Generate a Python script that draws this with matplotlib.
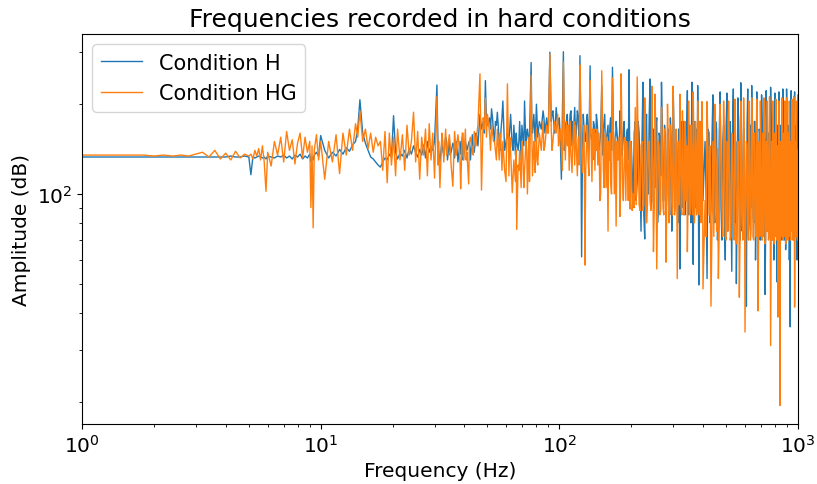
import matplotlib
matplotlib.use('Agg')
import numpy as np
import matplotlib.pyplot as plt

# frequency bins (Hz)
freq = [
    # 1 - 5 Hz
    1.0, 1.2, 1.5, 1.8, 2.0, 2.2, 2.4, 2.6, 2.8, 3.0,
    3.2, 3.4, 3.6, 3.8, 4.0, 4.2, 4.4, 4.6, 4.8, 5.0,
    # 5 - 10 Hz
    5.1, 5.2, 5.3, 5.4, 5.5, 5.6, 5.7, 5.8, 5.9, 6.0,
    6.2, 6.4, 6.6, 6.8, 7.0, 7.2, 7.4, 7.6, 7.8, 8.0,
    8.2, 8.4, 8.6, 8.8, 9.0, 9.1, 9.2, 9.3, 9.4, 9.6,
    9.8, 10.0,
    # 10 - 30 Hz
    10.4, 10.8, 11.2, 11.6, 12.0, 12.4, 12.8, 13.2, 13.6, 14.0,
    14.3, 14.6, 15.0, 15.4, 15.8, 16.2, 16.6, 17.0, 17.4, 17.8,
    18.2, 18.6, 19.0, 19.4, 19.8, 20.2, 20.6, 21.0, 21.5, 22.0,
    22.5, 23.0, 23.5, 24.0, 24.5, 25.0, 25.5, 26.0, 26.5, 27.0,
    27.5, 28.0, 28.5, 29.0, 29.5, 30.0,
    # 30 - 100 Hz
    30.7, 31.2, 31.6, 32.2, 32.8, 33.4, 34.0, 34.6, 35.2, 35.8,
    36.4, 37.0, 37.6, 38.2, 38.6, 39.2, 39.8, 40.4, 41.0, 41.7,
    42.4, 43.2, 44.0, 44.8, 45.6, 46.5, 47.2, 48.0, 49.0, 50.0,
    51.0, 52.0, 53.0, 54.0, 55.0, 56.0, 57.0, 58.0, 59.0, 60.6,
    61.5, 62.5, 63.5, 64.5, 65.5, 66.3, 67.2, 68.2, 69.2, 70.2,
    71.5, 72.5, 73.5, 74.5, 75.3, 76.2, 77.2, 78.2, 79.2, 80.2,
    81.2, 82.5, 84.0, 85.5, 87.0, 88.5, 90.0, 91.3, 92.5, 94.0,
    95.5, 97.0, 98.5, 100.0,
    # 100 - 200 Hz
    102, 104, 106, 108, 110, 112, 114, 116, 118, 120,
    122, 124, 126, 128, 130, 132, 134.6, 137, 139, 141,
    143, 145, 148, 150.6, 153, 155, 157, 160, 162, 164,
    167, 170, 173, 176, 179.5, 181.5, 184, 187, 190, 193,
    196, 198,
    # 200 - 400 Hz
    200, 204, 208, 212, 216, 220, 224, 228, 232, 236,
    240, 244, 248, 252, 256, 260, 264, 268, 272, 276,
    280, 284, 288, 292, 296, 300, 304, 308, 312, 316,
    320, 324, 328, 332, 336, 340, 344, 348, 352, 356,
    360, 364, 368, 372, 376, 380, 384, 388, 392, 396,
    400,
    # 400 - 1000 Hz
    408, 416, 424, 432, 440, 448, 456, 464, 472, 480,
    488, 496, 504, 512, 520, 528, 536, 544, 552, 560,
    568, 576, 584, 592, 600, 608, 616, 624, 632, 640,
    648, 656, 664, 672, 680, 688, 696, 704, 712, 720,
    728, 736, 744, 752, 760, 768, 776, 784, 792, 800,
    808, 816, 824, 832, 840, 848, 856, 864, 872, 880,
    888, 896, 904, 912, 920, 928, 936, 944, 952, 960,
    968, 976, 984, 992, 1000,
]

# Condition H amplitudes (dB)
amp_h = [
    133, 133, 133, 133, 133, 133, 133, 133, 133, 133,
    133, 133, 133, 133, 133, 134, 133, 133, 134, 133,
    116, 133, 132, 133, 134, 133, 132, 133, 131, 134,
    133, 132, 134, 133, 135, 132, 134, 131, 135, 133,
    136, 131, 134, 132, 136, 128, 133, 130, 135, 138,
    134, 157,
    140, 132, 138, 134, 141, 136, 143, 139, 146, 150,
    165, 207, 160, 148, 140, 133, 131, 128, 125, 123,
    128, 132, 130, 136, 133, 183, 138, 131, 137, 134,
    140, 132, 142, 136, 145, 138, 133, 141, 135, 146,
    132, 150, 138, 144, 140, 150,
    232, 140, 128, 150, 135, 155, 130, 152, 138, 148,
    132, 150, 128, 145, 136, 155, 135, 150, 140, 148,
    130, 158, 138, 160, 145, 185, 165, 175, 240, 170,
    180, 193, 160, 175, 188, 150, 165, 205, 140, 160,
    150, 185, 145, 170, 135, 150, 140, 175, 130, 160,
    205, 140, 165, 150, 180, 276, 160, 185, 150, 200,
    155, 175, 165, 190, 160, 180, 170, 299, 175, 190,
    160, 195, 170, 180,
    112, 300, 170, 185, 160, 190, 175, 195, 165, 180,
    291, 61.5, 185, 155, 175, 160, 269, 150, 175, 150,
    185, 160, 150, 230, 165, 185, 150, 170, 145, 180,
    266, 140, 175, 150, 190, 175, 140, 175, 120, 165,
    261, 135,
    150, 90, 175, 110, 160, 75, 237, 70.6, 185, 100,
    243, 95, 165, 105, 180, 90, 155, 237, 95, 170,
    85, 160, 100, 180, 75, 225, 90, 150, 100, 165,
    56, 150, 95, 175, 85, 160, 222, 95, 170, 80,
    237, 58, 175, 90, 160, 231, 49.5, 165, 85, 170,
    95,
    150, 52, 160, 90, 215, 80, 165, 95, 220, 70,
    170, 60, 218, 85, 175, 55, 225, 80, 50, 210,
    90, 236, 75, 165, 95, 42, 225, 80, 170, 231,
    85, 175, 60, 220, 90, 165, 70, 215, 85, 170,
    46, 222, 75, 160, 95, 228, 80, 175, 60, 218,
    85, 50.7, 165, 220, 90, 170, 70, 225, 85, 160,
    65, 225, 80, 170, 60, 35.8, 222, 85, 165, 70,
    220, 80, 170, 60, 215,
]

# Condition HG amplitudes (dB)
amp_hg = [
    135, 135, 135, 135, 134, 135, 134, 135, 134, 136,
    138, 133, 140, 131, 137, 130, 139, 132, 136, 134,
    136, 131, 140, 134, 142, 130, 145, 128, 102, 138,
    124, 150, 135, 155, 128, 162, 140, 152, 126, 148,
    160, 132, 155, 138, 150, 90, 145, 77, 140, 158,
    130, 150,
    112, 150, 128, 158, 117, 160, 135, 165, 140, 172,
    155, 190, 150, 165, 142, 160, 138, 155, 145, 150,
    120, 162, 109, 160, 125, 155, 115, 165, 130, 158,
    120, 170, 135, 150, 188, 128, 162, 112, 155, 135,
    165, 115, 172, 130, 160, 113,
    212, 150, 105, 160, 128, 165, 140, 158, 125, 106,
    162, 135, 158, 140, 104, 160, 130, 165, 138, 108,
    155, 140, 162, 145, 170, 253, 103, 180, 210, 185,
    160, 170, 150, 140, 165, 130, 145, 150, 120, 234,
    115, 140, 101, 130, 110, 76, 125, 140, 105, 145,
    120, 150, 100, 155, 130, 250, 115, 150, 118, 165,
    125, 160, 140, 175, 145, 170, 160, 295, 165, 150,
    175, 160, 185, 150,
    140, 277, 130, 145, 120, 135, 150, 125, 140, 155,
    271, 140, 150, 57.7, 145, 130, 240, 110, 145, 120,
    140, 125, 95, 259, 120, 140, 105, 75, 130, 110,
    245, 100, 78, 130, 84, 253, 110, 130, 95, 125,
    140, 89,
    135, 100, 195, 247, 92, 145, 88, 210, 80, 140,
    95, 230, 64, 216, 56, 150, 85, 195, 90, 165,
    59, 200, 80, 170, 95, 230, 85, 165, 52, 150,
    216, 90, 190, 85, 175, 95, 64, 205, 85, 170,
    90, 220, 80, 175, 85, 205, 90, 175, 80, 204,
    48,
    95, 204, 85, 42, 150, 200, 75, 52, 200, 90,
    205, 72, 150, 205, 70, 160, 80, 208, 68, 150,
    45, 205, 80, 210, 34.4, 150, 75, 205, 70, 210,
    72, 160, 78, 208, 40.5, 150, 205, 75, 160, 210,
    68, 150, 205, 70, 212, 31, 150, 205, 72, 160,
    208, 70, 38.6, 205, 19.5, 150, 210, 75, 160, 205,
    68, 210, 72, 160, 205, 80, 150, 208, 70, 212,
    41.7, 150, 205, 72, 140,
]

# extra bins in between, where the spectrum is dense
freq_fill = [
    # 30 - 100 Hz
    31.0, 32.5, 33.7, 34.9, 36.1, 37.3, 38.4, 39.5, 40.7, 42.0,
    43.6, 45.2, 47.6, 48.5, 49.5, 51.5, 52.5, 53.5, 54.5, 56.5,
    57.5, 59.8, 62.0, 64.0, 66.0, 67.7, 69.7, 71.0, 73.0, 75.0,
    76.7, 78.7, 80.7, 83.2, 86.2, 89.2, 93.2, 96.2, 99.2,
    # 100 - 200 Hz
    101, 103, 105, 107, 109, 111, 113, 115, 117, 119,
    121, 123, 125, 127, 129, 131, 133, 135.5, 138, 140,
    142, 144, 146.5, 149, 152, 154, 156, 158.5, 161, 163,
    165.5, 168.5, 171.5, 174.5, 178, 180.5, 183, 185.5, 188.5, 191.5,
    194.5, 197, 199,
    # 200 - 400 Hz
    202, 206, 210, 214, 218, 222, 226, 230, 234, 238,
    242, 246, 250, 254, 258, 262, 266, 270, 274, 278,
    282, 286, 290, 294, 298, 302, 306, 310, 314, 318,
    322, 326, 330, 334, 338, 342, 346, 350, 354, 358,
    362, 366, 370, 374, 378, 382, 386, 390, 394, 398,
    # 400 - 1000 Hz
    412, 420, 428, 436, 444, 452, 460, 468, 476, 484,
    492, 500, 508, 516, 524, 532, 540, 548, 556, 564,
    572, 580, 588, 596, 604, 612, 620, 628, 636, 644,
    652, 660, 668, 676, 684, 692, 700, 708, 716, 724,
    732, 740, 748, 756, 764, 772, 780, 788, 796, 804,
    812, 820, 828, 836, 844, 852, 860, 868, 876, 884,
    892, 900, 908, 916, 924, 932, 940, 948, 956, 964,
    972, 980, 988, 996,
]

h_fill = [
    145, 140, 150, 135, 145, 140, 150, 130, 145, 150,
    140, 155, 170, 160, 175, 165, 180, 150, 170, 140,
    180, 150, 165, 140, 160, 150, 170, 145, 160, 155,
    170, 165, 175, 170, 180, 165, 185, 170, 175,
    150, 180, 140, 175, 150, 185, 145, 170, 155, 190,
    150, 175, 135, 165, 150, 185, 140, 160, 130, 170,
    145, 175, 140, 160, 135, 175, 140, 160, 130, 170,
    140, 165, 135, 160, 130, 160, 135, 165, 125, 160,
    130, 155, 140,
    120, 160, 95, 175, 110, 150, 85, 165, 100, 180,
    90, 155, 105, 170, 80, 160, 115, 175, 95, 150,
    100, 165, 85, 155, 110, 170, 95, 150, 80, 160,
    105, 175, 90, 150, 100, 165, 85, 155, 95, 170,
    80, 150, 105, 165, 90, 160, 100, 175, 85, 150,
    100, 165, 80, 150, 95, 175, 70, 160, 90, 150,
    85, 170, 75, 155, 95, 165, 80, 150, 90, 175,
    70, 160, 95, 150, 85, 170, 75, 165, 90, 155,
    80, 175, 95, 150, 70, 160, 85, 170, 90, 150,
    75, 165, 95, 155, 80, 175, 70, 150, 90, 160,
    85, 170, 75, 155, 95, 165, 80, 150, 70, 175,
    90, 160, 85, 150, 95, 170, 75, 165, 80, 155,
    90, 160, 70, 150,
]

hg_fill = [
    125, 150, 135, 145, 130, 150, 125, 160, 130, 150,
    135, 160, 140, 165, 155, 140, 160, 150, 130, 160,
    120, 110, 155, 115, 140, 120, 150, 105, 140, 110,
    160, 135, 130, 150, 140, 160, 140, 165, 145,
    165, 120, 170, 175, 170, 175, 118, 175, 170, 115,
    125, 175, 118, 170, 120, 170, 115, 165, 165, 165,
    160, 165, 160, 100, 160, 105, 160, 155, 150, 160,
    100, 160, 155, 150, 155, 100, 160, 95, 155, 150,
    95, 150, 150,
    88, 90, 92, 145, 88, 150, 92, 145, 92, 150,
    88, 145, 90, 145, 92, 145, 88, 150, 85, 145,
    92, 150, 88, 145, 85, 150, 90, 145, 88, 92,
    150, 85, 145, 90, 150, 145, 90, 150, 88, 145,
    85, 150, 90, 145, 88, 150, 85, 145, 88, 145,
    72, 140, 145, 75, 72, 145, 142, 78, 140, 72,
    145, 70, 75, 140, 72, 145, 70, 142, 74, 140,
    72, 145, 70, 140, 72, 145, 70, 140, 75, 145,
    70, 142, 72, 145, 70, 72, 140, 70, 72, 145,
    70, 75, 140, 72, 145, 72, 70, 145, 68, 72,
    140, 145, 72, 142, 70, 72, 145, 70, 72, 140,
    70, 145, 70, 72, 145, 70, 75, 140, 72, 145,
    70, 72, 145, 70,
]

# merge the two sets of bins in frequency order
f_all = np.array(freq + freq_fill)
order = np.argsort(f_all, kind='stable')
f_all = f_all[order]
h_all = np.array(amp_h + h_fill)[order]
hg_all = np.array(amp_hg + hg_fill)[order]

fig = plt.figure(figsize=(8.17, 4.85), dpi=100)
ax = fig.add_axes([0.1004, 0.1237, 0.8763, 0.8041])

ax.plot(f_all, h_all, color='#1f77b4', lw=1.0, label='Condition H')
ax.plot(f_all, hg_all, color='#ff7f0e', lw=1.0, label='Condition HG')

ax.set_xscale('log')
ax.set_yscale('log')
ax.set_xlim(1, 1000)
ax.set_ylim(16.9, 344)

ax.set_title('Frequencies recorded in hard conditions', fontsize=18)
ax.set_xlabel('Frequency (Hz)', fontsize=14.5)
ax.set_ylabel('Amplitude (dB)', fontsize=14.5)
ax.tick_params(axis='both', which='major', labelsize=14.5)
ax.legend(loc='upper left', fontsize=15)

fig.savefig('out.png', dpi=100)
